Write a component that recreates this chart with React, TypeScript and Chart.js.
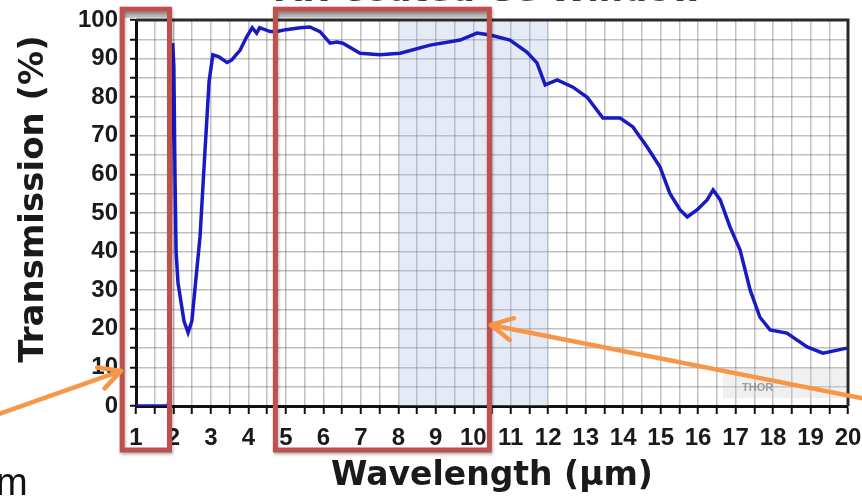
import React, { useEffect, useRef } from 'react';
import { Chart, registerables } from 'chart.js';

Chart.register(...registerables);

const chartTitle = 'AR Coated Ge Window';
const xTitle = 'Wavelength (µm)';
const yTitle = 'Transmission (%)';

const xTickLabels = [1, 2, 3, 4, 5, 6, 7, 8, 9, 10, 11, 12, 13, 14, 15, 16, 17, 18, 19, 20];
const yTickLabels = [0, 10, 20, 30, 40, 50, 60, 70, 80, 90, 100];

const wavelengths = [
  1.0, 1.5, 1.85, 1.9, 1.92, 1.95, 1.98, 2.01, 2.04, 2.07, 2.12, 2.2, 2.28, 2.39, 2.49, 2.6, 2.71, 2.84, 2.95, 3.05,
  3.2, 3.43, 3.55, 3.78, 3.95, 4.1, 4.22, 4.3, 4.58, 4.76, 5.0, 5.38, 5.64, 5.91, 6.18, 6.36, 6.52, 6.98, 7.51, 8.05,
  8.85, 9.65, 10.1, 10.45, 10.98, 11.43, 11.7, 11.92, 12.24, 12.66, 13.04, 13.46, 13.92, 14.26, 14.64, 14.98, 15.25,
  15.52, 15.71, 15.97, 16.24, 16.4, 16.59, 16.85, 17.12, 17.39, 17.65, 17.92, 18.37, 18.91, 19.33, 19.97,
];
const transmission = [
  0, 0, 0, 2, 50, 90, 94, 88, 60, 40, 32, 27, 22, 19, 22, 33, 44, 66, 84, 91,
  90.5, 89, 89.6, 92.2, 95.6, 98, 96.6, 98, 97, 97, 97.5, 98, 98.2, 97, 94, 94.3, 94, 91.4, 91, 91.4,
  93.5, 94.8, 96.6, 96.1, 94.8, 91.7, 88.9, 83.2, 84.5, 82.6, 80, 74.6, 74.6, 72.3, 67.1, 62, 55,
  50.8, 49, 50.8, 53.4, 56, 53.4, 46.4, 40.4, 30, 23, 19.7, 18.9, 15.3, 13.7, 15,
];

// Shaded band (µm)
const shadedBand = [8, 12];
// Highlight boxes in data units: [xStart, xEnd, yTop, yBottom]
const highlightBoxes = [
  [0.63, 1.894, 102.8, -11.4],
  [4.72, 10.43, 102.8, -11.4],
];
// Arrow tips in data units
const arrowTips = [
  [0.6, 9.1],
  [10.47, 21],
];

function drawArrow(ctx: CanvasRenderingContext2D, sx: number, sy: number, tx: number, ty: number) {
  const ang = Math.atan2(sy - ty, sx - tx);
  const len = 24;
  const spread = 0.48;
  ctx.beginPath();
  ctx.moveTo(sx, sy);
  ctx.lineTo(tx, ty);
  ctx.moveTo(tx + len * Math.cos(ang + spread), ty + len * Math.sin(ang + spread));
  ctx.lineTo(tx, ty);
  ctx.lineTo(tx + len * Math.cos(ang - spread), ty + len * Math.sin(ang - spread));
  ctx.stroke();
}

const decor = {
  id: 'decor',
  beforeDatasetsDraw(chart: any) {
    const { ctx, chartArea, scales } = chart;
    const x0 = scales.x.getPixelForValue(shadedBand[0]);
    const x1 = scales.x.getPixelForValue(shadedBand[1]);
    ctx.save();
    ctx.fillStyle = 'rgba(170,186,228,0.3)';
    ctx.fillRect(x0, chartArea.top, x1 - x0, chartArea.bottom - chartArea.top);
    // faint watermark box
    ctx.fillStyle = 'rgba(205,205,205,0.3)';
    ctx.fillRect(723, 368, chartArea.right - 725, 30);
    ctx.fillStyle = 'rgba(130,130,130,0.75)';
    ctx.font = 'bold 11px "Liberation Sans", Arial';
    ctx.textAlign = 'left';
    ctx.textBaseline = 'middle';
    ctx.fillText('THOR', 742, 388);
    ctx.restore();
  },
  afterDraw(chart: any) {
    const { ctx, chartArea, scales } = chart;
    const { left, right, top, bottom } = chartArea;
    ctx.save();
    // frame top/right
    ctx.strokeStyle = '#2a2a2a';
    ctx.lineWidth = 3;
    ctx.beginPath();
    ctx.moveTo(left, top);
    ctx.lineTo(right, top);
    ctx.lineTo(right, bottom);
    ctx.stroke();

    // chart title (cut off at top)
    ctx.fillStyle = '#3a3a3a';
    ctx.font = 'bold 34px "DejaVu Sans"';
    ctx.textAlign = 'center';
    ctx.textBaseline = 'alphabetic';
    ctx.fillText(chartTitle, 489, 1);

    // y axis title
    ctx.save();
    ctx.translate(34, 199);
    ctx.rotate(-Math.PI / 2);
    ctx.fillStyle = '#1a1a1a';
    ctx.font = 'bold 34px "DejaVu Sans"';
    ctx.textAlign = 'center';
    ctx.textBaseline = 'middle';
    ctx.fillText(yTitle, 0, 0);
    ctx.restore();

    // highlight boxes
    highlightBoxes.forEach(([xa, xb, ya, yb]) => {
      const px0 = scales.x.getPixelForValue(xa);
      const px1 = scales.x.getPixelForValue(xb);
      const py0 = scales.y.getPixelForValue(ya);
      const py1 = scales.y.getPixelForValue(yb);
      ctx.fillStyle = 'rgba(140,140,140,0.6)';
      ctx.fillRect(px0, py0 + 2.5, px1 - px0, 6);
      ctx.save();
      ctx.shadowColor = 'rgba(0,0,0,0.3)';
      ctx.shadowBlur = 3;
      ctx.shadowOffsetX = 1;
      ctx.shadowOffsetY = 2;
      ctx.strokeStyle = '#c0504d';
      ctx.lineWidth = 5;
      ctx.strokeRect(px0, py0, px1 - px0, py1 - py0);
      ctx.restore();
    });

    // arrows
    ctx.strokeStyle = '#f79646';
    ctx.lineWidth = 4.5;
    ctx.lineCap = 'round';
    ctx.lineJoin = 'round';
    const t1 = arrowTips[0];
    drawArrow(ctx, -4, 415, scales.x.getPixelForValue(t1[0]), scales.y.getPixelForValue(t1[1]));
    const t2 = arrowTips[1];
    drawArrow(ctx, 866, 399, scales.x.getPixelForValue(t2[0]), scales.y.getPixelForValue(t2[1]));

    // cut-off unit text at bottom left
    ctx.fillStyle = '#111';
    ctx.font = '38px "Liberation Sans", Arial';
    ctx.textAlign = 'left';
    ctx.textBaseline = 'alphabetic';
    ctx.fillText('m', -4, 495);
    ctx.restore();
  },
};

export default function App() {
  const ref = useRef<HTMLCanvasElement>(null);
  useEffect(() => {
    const tickFont = { family: '"Liberation Sans", Arial', size: 24, weight: 'bold' as const };
    const chart = new Chart(ref.current!, {
      type: 'line',
      data: {
        datasets: [
          {
            data: wavelengths.map((x, i) => ({ x, y: transmission[i] })),
            borderColor: '#1a1ac4',
            borderWidth: 3.5,
            pointRadius: 0,
            tension: 0,
            fill: false,
          },
        ],
      },
      options: {
        animation: false,
        responsive: true,
        maintainAspectRatio: false,
        layout: { padding: { left: 0, top: 20, right: 14, bottom: 0 } },
        plugins: { legend: { display: false }, tooltip: { enabled: false }, title: { display: false } },
        scales: {
          x: {
            type: 'linear',
            min: 1,
            max: 20,
            afterFit(s: any) {
              s.height = 90;
              s.paddingLeft = 0;
              s.paddingRight = 0;
            },
            ticks: {
              stepSize: 0.5,
              autoSkip: false,
              maxTicksLimit: 60,
              maxRotation: 0,
              minRotation: 0,
              padding: 10,
              color: '#1a1a1a',
              font: tickFont,
              callback: (v: any) => (xTickLabels.includes(Number(v)) ? String(v) : ''),
            },
            grid: { color: 'rgba(90,90,90,0.38)', lineWidth: 1.5, tickLength: 8, tickColor: '#111', tickWidth: 2 },
            border: { color: '#111', width: 3 },
            title: {
              display: true,
              text: xTitle,
              color: '#1a1a1a',
              font: { family: '"DejaVu Sans"', size: 33, weight: 'bold' },
              padding: { top: 0, bottom: 0 },
            },
          },
          y: {
            min: 0,
            max: 100,
            afterFit(s: any) {
              s.width = 136;
              s.paddingTop = 0;
              s.paddingBottom = 0;
            },
            ticks: {
              stepSize: 5,
              autoSkip: false,
              maxTicksLimit: 40,
              padding: 12,
              color: '#1a1a1a',
              font: tickFont,
              callback: (v: any) => (yTickLabels.includes(Number(v)) ? String(v) : ''),
            },
            grid: { color: 'rgba(90,90,90,0.38)', lineWidth: 1.5, tickLength: 6, tickColor: '#111', tickWidth: 2 },
            border: { color: '#111', width: 3 },
          },
        },
      } as any,
      plugins: [decor],
    });
    return () => chart.destroy();
  }, []);
  return (
    <div style={{ position: 'fixed', left: 0, top: 0, width: 862, height: 496, background: '#fff' }}>
      <canvas ref={ref} />
    </div>
  );
}
